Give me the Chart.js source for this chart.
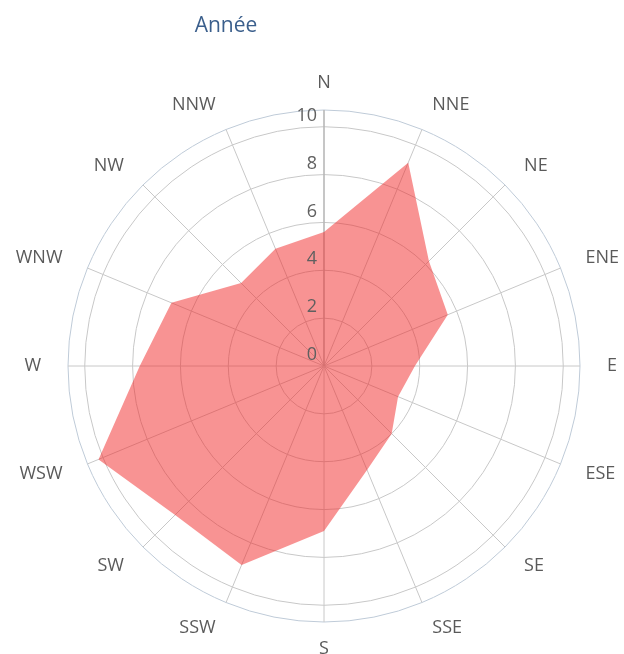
<!DOCTYPE html>
<html><head><meta charset="utf-8">
<script src="https://cdn.jsdelivr.net/npm/chart.js@4/dist/chart.umd.min.js"></script>
<style>html,body{margin:0;padding:0;background:#fff}canvas{display:block}</style>
</head><body>
<canvas id="c" width="624" height="654"></canvas>
<script>
const titleText = 'Année';
const directions = ['N','NNE','NE','ENE','E','ESE','SE','SSE','S','SSW','SW','WSW','W','WNW','NW','NNW'];
const frequencies = [5.6, 9.2, 6.2, 5.6, 3.8, 3.35, 4.0, 4.7, 6.9, 9.0, 8.8, 10.2, 7.7, 6.9, 4.9, 5.3];
const tickValues = [0, 2, 4, 6, 8, 10];
const scaleMax = 10.7;

const FONT = '"Open Sans", "DejaVu Sans", sans-serif';

const roseText = {
  id: 'roseText',
  afterDraw(chart) {
    const ctx = chart.ctx;
    const s = chart.scales.r;
    ctx.save();
    // title
    ctx.font = '21px ' + FONT;
    ctx.fillStyle = '#3b5f8c';
    ctx.textAlign = 'center';
    ctx.textBaseline = 'alphabetic';
    ctx.fillText(titleText, 226, 32);
    // direction labels
    ctx.font = '18px ' + FONT;
    ctx.fillStyle = '#5a5a5a';
    ctx.textBaseline = 'middle';
    directions.forEach((lab, i) => {
      const p = s.getPointPosition(i, s.drawingArea + 27);
      const c = Math.cos(p.angle);
      ctx.textAlign = Math.abs(c) < 0.05 ? 'center' : (c > 0 ? 'left' : 'right');
      ctx.fillText(lab, p.x, p.y);
    });
    // tick labels
    ctx.textAlign = 'right';
    ctx.fillStyle = '#606060';
    tickValues.forEach(v => {
      const d = s.getDistanceFromCenterForValue(v);
      ctx.fillText(String(v), s.xCenter - 7, s.yCenter - d - 11);
    });
    ctx.restore();
  }
};

new Chart(document.getElementById('c'), {
  type: 'radar',
  data: {
    labels: directions,
    datasets: [{
      label: titleText,
      data: frequencies,
      backgroundColor: 'rgba(242, 40, 40, 0.5)',
      borderWidth: 0,
      pointRadius: 0,
      fill: true,
      tension: 0
    }]
  },
  options: {
    responsive: false,
    animation: false,
    layout: { padding: { left: 68, top: 110, right: 44, bottom: 32 } },
    plugins: { legend: { display: false }, title: { display: false }, tooltip: { enabled: false } },
    scales: {
      r: {
        min: 0,
        max: scaleMax,
        ticks: { display: false, stepSize: 2 },
        pointLabels: { display: false },
        grid: {
          circular: true,
          color: (ctx) => (ctx.tick && ctx.tick.value > 10.01) ? '#bfcbd8' : '#c8c8c8',
          lineWidth: 1
        },
        angleLines: {
          color: (ctx) => ctx.index === 0 ? '#b8b8b8' : '#c8c8c8',
          lineWidth: (ctx) => ctx.index === 0 ? 1.6 : 1
        }
      }
    }
  },
  plugins: [roseText]
});
</script>
</body></html>
